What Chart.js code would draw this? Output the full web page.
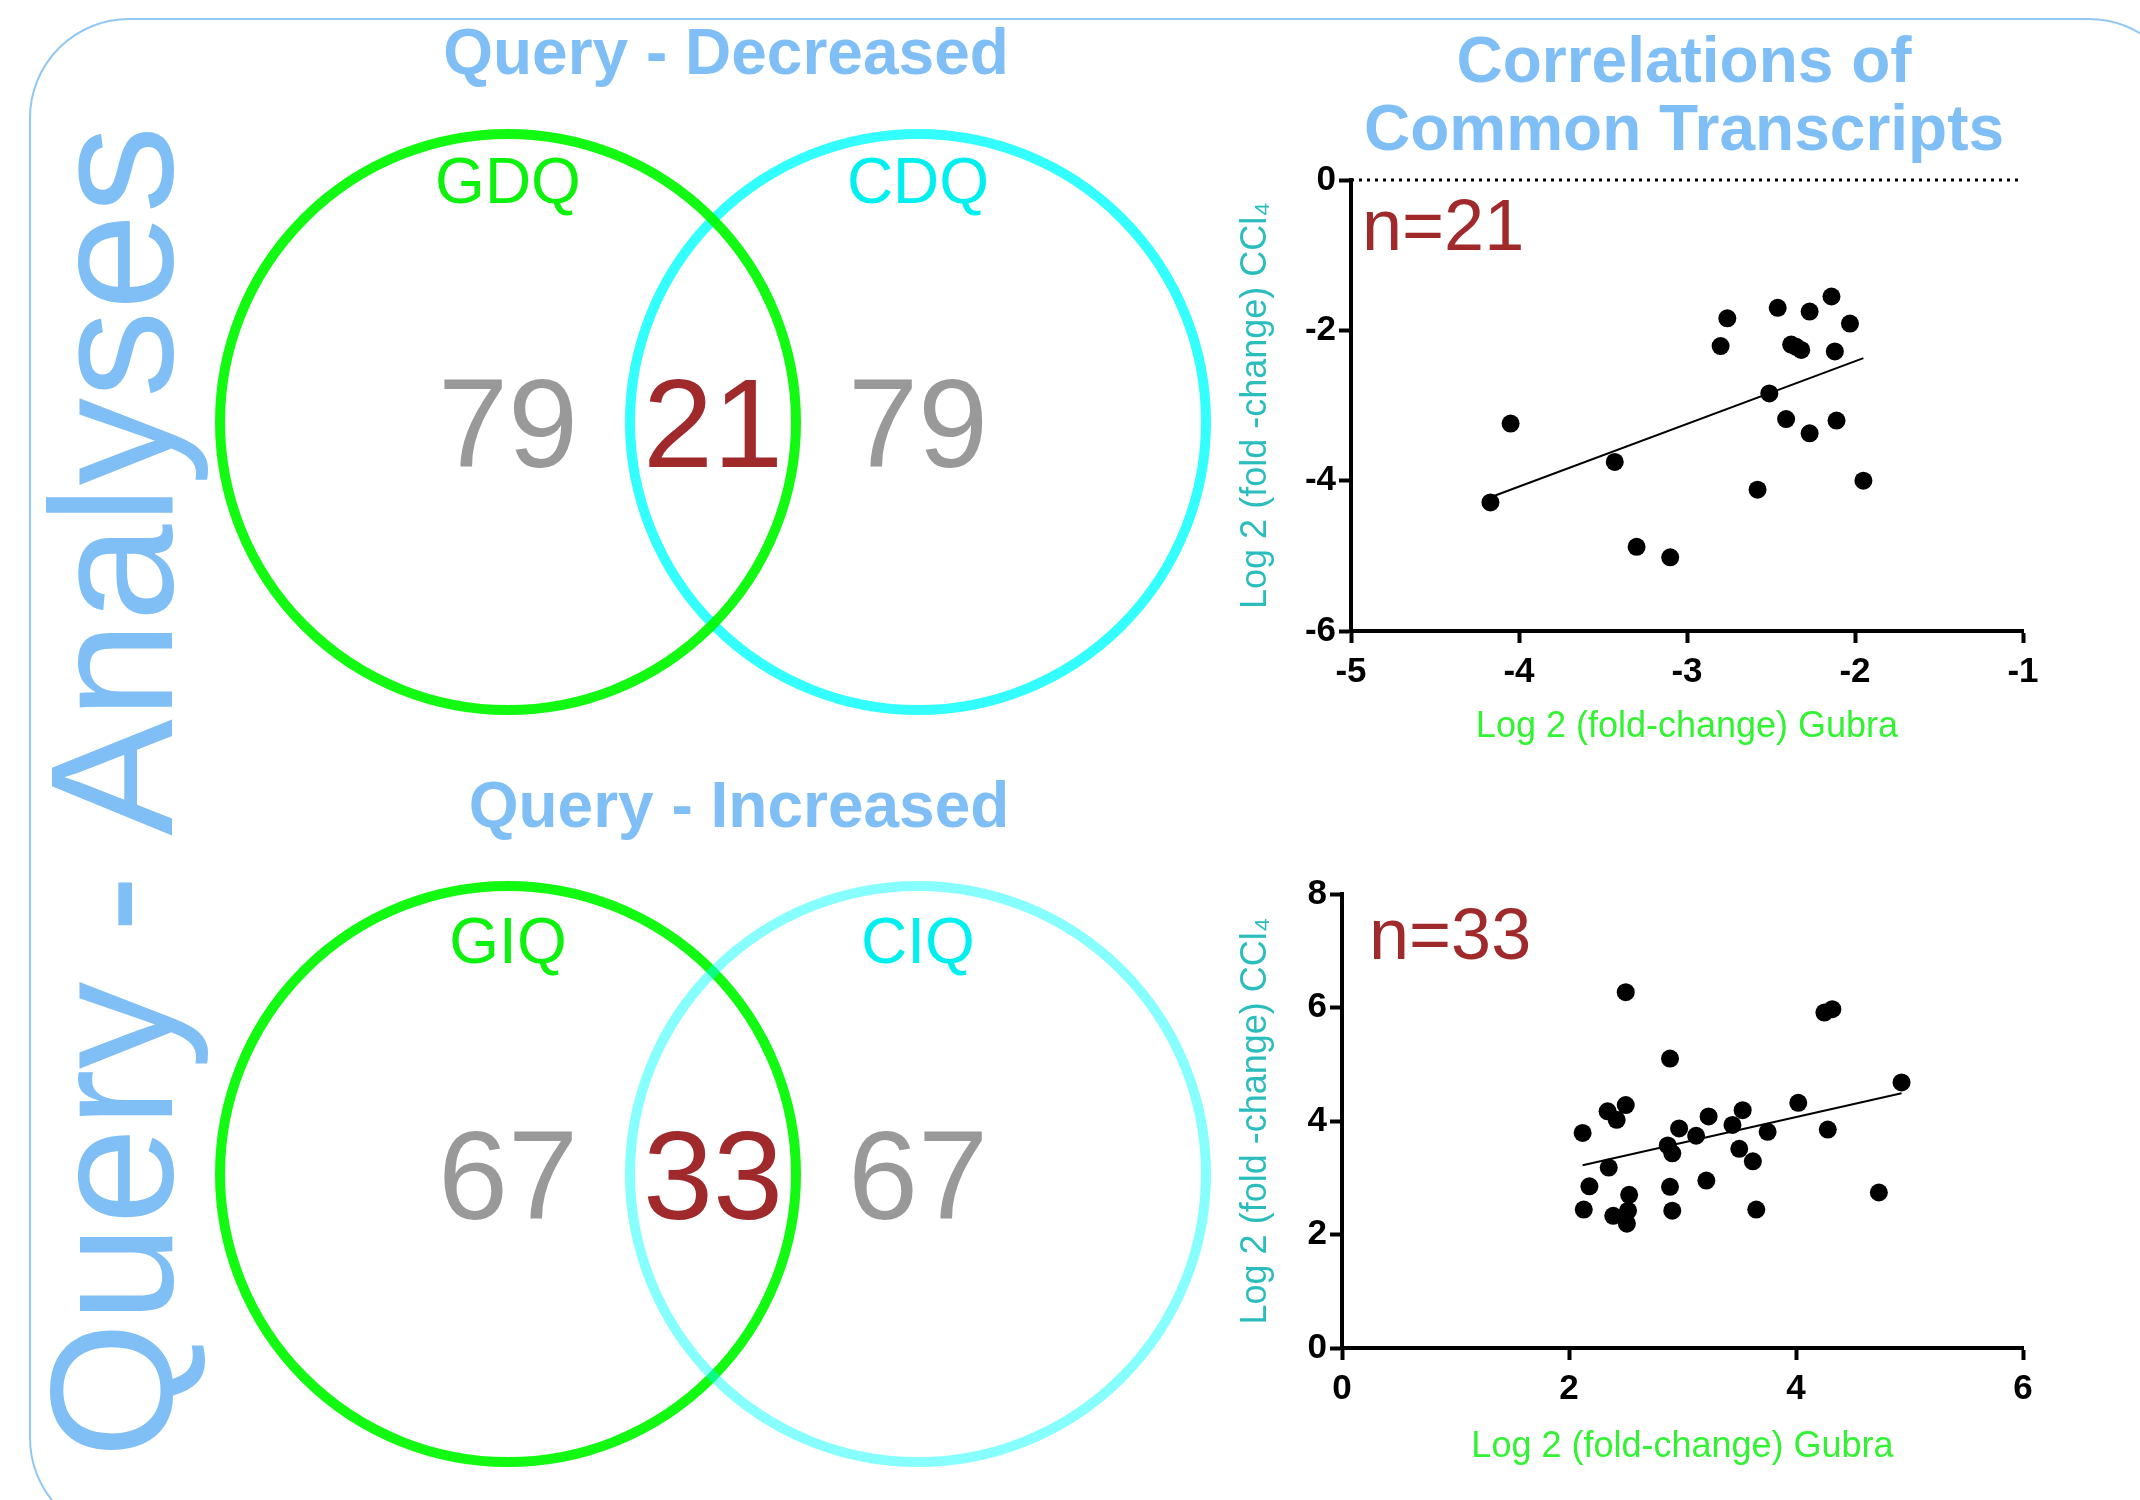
<!DOCTYPE html>
<html>
<head>
<meta charset="utf-8">
<script src="https://cdn.jsdelivr.net/npm/chart.js@4.4.1/dist/chart.umd.min.js"></script>
<style>
html, body { margin: 0; padding: 0; background: #fff; }
body { width: 2140px; height: 1500px; overflow: hidden; position: relative; font-family: 'Liberation Sans', Arial, sans-serif; }
.frame { position: absolute; left: 29px; top: 18px; width: 2160px; height: 1520px; border: 2px solid #93c7f3; border-radius: 100px; box-sizing: border-box; }
.title { position: absolute; width: 800px; color: #80bff5; font-weight: bold; font-size: 64px; line-height: 64px; text-align: center; white-space: nowrap; }
.side { position: absolute; left: 111px; top: 792px; color: #80bff5; font-size: 175px; line-height: 175px; white-space: nowrap; transform: translate(-50%, -50%) rotate(-90deg); }
canvas { position: absolute; }
</style>
</head>
<body>
<div class="frame"></div>
<div class="side">Query - Analyses</div>
<div class="title" style="left:326px; top:20px;">Query - Decreased</div>
<div class="title" style="left:339px; top:773px;">Query - Increased</div>
<div class="title" style="left:1284px; top:28px;">Correlations of</div>
<div class="title" style="left:1284px; top:96px;">Common Transcripts</div>

<canvas id="vennDec" width="1066" height="624" style="left:180px; top:110px;"></canvas>
<canvas id="vennInc" width="1066" height="624" style="left:180px; top:862px;"></canvas>
<canvas id="scatterDec" width="880" height="620" style="left:1230px; top:140px;"></canvas>
<canvas id="scatterInc" width="880" height="620" style="left:1230px; top:860px;"></canvas>

<script>
// Venn counts: [only first set, shared, only second set]
var decNames = ['GDQ', 'CDQ'];
var decCounts = [79, 21, 79];
var incNames = ['GIQ', 'CIQ'];
var incCounts = [67, 33, 67];

// common decreased transcripts (log2 fold-change)
var decGubra = [-4.17, -4.05, -3.43, -3.30, -3.10, -2.80, -2.76, -2.58, -2.51, -2.46, -2.41,
                -2.38, -2.35, -2.32, -2.27, -2.27, -2.14, -2.12, -2.11, -2.03, -1.95];
var decCCl4 = [-4.29, -3.24, -3.75, -4.88, -5.02, -2.21, -1.84, -4.12, -2.84, -1.70, -3.18,
               -2.19, -2.22, -2.26, -1.75, -3.37, -1.55, -2.28, -3.20, -1.91, -4.00];
var decFitX = [-4.17, -1.95];
var decFitY = [-4.22, -2.37];

// common increased transcripts (log2 fold-change)
var incGubra = [2.12, 2.13, 2.18, 2.34, 2.35, 2.39, 2.42, 2.50, 2.50, 2.51, 2.52, 2.53, 2.87,
                2.89, 2.89, 2.91, 2.91, 2.97, 3.12, 3.21, 3.23, 3.44, 3.50, 3.53, 3.62, 3.65,
                3.75, 4.02, 4.25, 4.32, 4.28, 4.73, 4.93];
var incCCl4 = [3.79, 2.44, 2.85, 4.17, 3.18, 2.33, 4.02, 6.27, 4.28, 2.19, 2.42, 2.70, 3.57,
               5.10, 2.84, 3.43, 2.42, 3.87, 3.74, 2.95, 4.08, 3.93, 3.51, 4.19, 3.29, 2.44,
               3.81, 4.32, 5.91, 5.97, 3.85, 2.74, 4.68];
var incFitX = [2.12, 4.93];
var incFitY = [3.22, 4.49];

var FONT = "'Liberation Sans', Arial, sans-serif";

// text for the venn: set names above, counts in the middle
var vennText = {
    id: 'vennText',
    afterDatasetsDraw: function(chart, args, o) {
        var ctx = chart.ctx;
        var xs = chart.scales.x;
        var cy = chart.scales.y.getPixelForValue(0);
        var setX = [0, 1];
        var regionX = [0, 0.5, 1];
        var countColors = ['#999999', '#a0292b', '#999999'];
        ctx.save();
        ctx.textAlign = 'center';
        ctx.textBaseline = 'alphabetic';
        ctx.font = '64px ' + FONT;
        for (var i = 0; i < o.names.length; i++) {
            ctx.fillStyle = o.nameColors[i];
            ctx.fillText(o.names[i], xs.getPixelForValue(setX[i]), cy - o.nameOffset);
        }
        ctx.font = '126px ' + FONT;
        for (var j = 0; j < o.counts.length; j++) {
            ctx.fillStyle = countColors[j];
            ctx.fillText(String(o.counts[j]), xs.getPixelForValue(regionX[j]), cy + 45);
        }
        ctx.restore();
    }
};

function makeVenn(id, names, counts, colors, orders, nameOffset) {
    var ds = [];
    for (var i = 0; i < 2; i++) {
        ds.push({
            data: [{x: i, y: 0, r: 288}],
            borderColor: colors[i],
            backgroundColor: 'rgba(0,0,0,0)',
            borderWidth: 10,
            hoverBorderWidth: 10,
            clip: false,
            order: orders[i]
        });
    }
    return new Chart(document.getElementById(id), {
        type: 'bubble',
        data: {datasets: ds},
        options: {
            responsive: false,
            animation: false,
            devicePixelRatio: 1,
            events: [],
            layout: {padding: 0, autoPadding: false},
            scales: {
                x: {type: 'linear', min: -0.8, max: 1.8, display: false},
                y: {type: 'linear', min: -1, max: 1, display: false}
            },
            plugins: {
                legend: {display: false},
                tooltip: {enabled: false},
                vennText: {names: names, counts: counts, nameOffset: nameOffset,
                           nameColors: ['#0df20d', '#00f0f0']}
            }
        },
        plugins: [vennText]
    });
}

makeVenn('vennDec', decNames, decCounts, ['rgba(0,250,0,0.93)', 'rgba(0,255,255,0.8)'], [0, 1], 219);
makeVenn('vennInc', incNames, incCounts, ['rgba(0,250,0,0.93)', 'rgba(0,255,255,0.47)'], [1, 0], 211);

// "n=.." label in the corner of each scatter
var nLabel = {
    id: 'nLabel',
    afterDraw: function(chart, args, o) {
        var ctx = chart.ctx;
        var a = chart.chartArea;
        ctx.save();
        ctx.fillStyle = '#a0292b';
        ctx.font = '72px ' + FONT;
        ctx.textAlign = 'left';
        ctx.textBaseline = 'alphabetic';
        ctx.fillText(o.text, a.left + o.dx, a.top + o.dy);
        ctx.restore();
    }
};

function toPoints(xs, ys) {
    var pts = [];
    for (var i = 0; i < xs.length; i++) pts.push({x: xs[i], y: ys[i]});
    return pts;
}

function axisStyle(min, max, step, title, titleColor, titlePad, size, isY) {
    return {
        type: 'linear',
        min: min,
        max: max,
        ticks: {stepSize: step, color: '#000', padding: isY ? 3 : 8,
                font: {family: FONT, size: 35, weight: 'bold'}},
        grid: {display: true, drawOnChartArea: false, drawTicks: true, tickLength: 12,
               tickWidth: 4, tickColor: '#000', color: '#000'},
        border: {display: true, width: 4, color: '#000'},
        title: {display: true, text: title, color: titleColor,
                font: {family: FONT, size: 36}, padding: titlePad},
        afterFit: function(scale) {
            if (isY) scale.width = size; else scale.height = size;
        }
    };
}

function makeScatter(id, xs, ys, fitX, fitY, xr, yr, sizes, pad, label, zeroLine) {
    var datasets = [
        {
            type: 'scatter',
            data: toPoints(xs, ys),
            backgroundColor: '#000',
            borderWidth: 0,
            pointRadius: 9,
            pointHoverRadius: 9,
            clip: false
        },
        {
            type: 'line',
            data: toPoints(fitX, fitY),
            borderColor: '#000',
            borderWidth: 2,
            pointRadius: 0,
            fill: false
        }
    ];
    if (zeroLine) {
        datasets.push({
            type: 'line',
            data: [{x: xr[0], y: 0}, {x: xr[1], y: 0}],
            borderColor: '#000',
            borderWidth: 3,
            borderDash: [3, 5],
            pointRadius: 0,
            clip: false
        });
    }
    return new Chart(document.getElementById(id), {
        type: 'scatter',
        data: {datasets: datasets},
        options: {
            responsive: false,
            animation: false,
            devicePixelRatio: 1,
            events: [],
            layout: {padding: pad},
            scales: {
                x: axisStyle(xr[0], xr[1], xr[2], 'Log 2 (fold-change) Gubra', '#33f233',
                             {top: 0, bottom: 11}, sizes[0], false),
                y: axisStyle(yr[0], yr[1], yr[2], 'Log 2 (fold -change) CCl\u2084', '#2bbdbd',
                             {top: 4, bottom: 0}, sizes[1], true)
            },
            plugins: {
                legend: {display: false},
                tooltip: {enabled: false},
                nLabel: label
            }
        },
        plugins: [nLabel]
    });
}

makeScatter('scatterDec', decGubra, decCCl4, decFitX, decFitY, [-5, -1, 1], [-6, 0, 2],
            [129, 121], {top: 40, right: 87, bottom: 0, left: 0},
            {text: 'n=21', dx: 11, dy: 70}, true);
makeScatter('scatterInc', incGubra, incCCl4, incFitX, incFitY, [0, 6, 2], [0, 8, 2],
            [132, 112], {top: 34, right: 87, bottom: 0, left: 0},
            {text: 'n=33', dx: 27, dy: 65}, false);
</script>
</body>
</html>
